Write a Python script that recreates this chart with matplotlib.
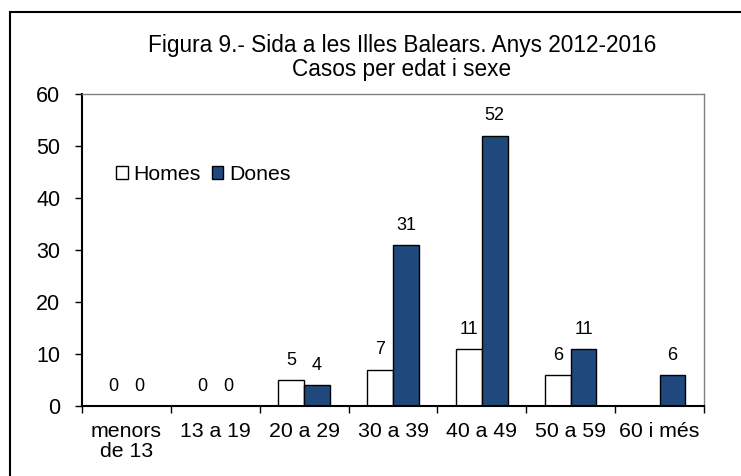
import numpy as np
import matplotlib
matplotlib.use("Agg")
import matplotlib.pyplot as plt
from matplotlib.patches import Rectangle

plt.rcParams["font.family"] = ["Liberation Sans", "DejaVu Sans"]

# dades
categories = ["menors\nde 13", "13 a 19", "20 a 29", "30 a 39", "40 a 49", "50 a 59", "60 i més"]
homes = [0, 0, 5, 7, 11, 6, None]
dones = [0, 0, 4, 31, 52, 11, 6]
yticks = [0, 10, 20, 30, 40, 50, 60]

title = "Figura 9.- Sida a les Illes Balears. Anys 2012-2016\nCasos per edat i sexe"
blue = "#1F497D"


def plotBars():
    fig = plt.figure(figsize=(7.41, 4.76), dpi=100)
    ax = fig.add_axes([82 / 741, 70 / 476, 622 / 741, 312 / 476])

    # marc exterior
    fig.patches.append(Rectangle((10 / 741, -0.1), 1.2, 1 - 12 / 476 + 0.1, transform=fig.transFigure,
                                 fill=False, edgecolor="black", linewidth=1.5))

    x = np.arange(len(categories)) + 0.5
    w = 0.29
    h_vals = np.array([np.nan if v is None else v for v in homes], dtype=float)
    d_vals = np.array(dones, dtype=float)
    hb = ax.bar(x - w / 2, np.nan_to_num(h_vals), width=w, color="white", edgecolor="black",
                linewidth=1, label="Homes")
    db = ax.bar(x + w / 2, d_vals, width=w, color=blue, edgecolor="black", linewidth=1, label="Dones")

    for rect, v in zip(hb, h_vals):
        if np.isnan(v):
            rect.set_visible(False)
            continue
        ax.annotate(f"{int(v)}", (rect.get_x() + rect.get_width() / 2, v), xytext=(0, 8),
                    textcoords="offset points", ha="center", va="bottom", fontsize=13)
    for rect, v in zip(db, d_vals):
        ax.annotate(f"{int(v)}", (rect.get_x() + rect.get_width() / 2, v), xytext=(0, 8),
                    textcoords="offset points", ha="center", va="bottom", fontsize=13)

    ax.set_xlim(0, len(categories))
    ax.set_ylim(0, 60)
    ax.set_yticks(yticks)
    ax.tick_params(axis="y", labelsize=15.5, length=5, width=1, pad=10.5)

    ax.set_xticks(np.arange(len(categories) + 1))
    ax.set_xticklabels([])
    ax.set_xticks(x, minor=True)
    ax.set_xticklabels(categories, minor=True, fontsize=15.3, linespacing=1.1)
    ax.tick_params(axis="x", which="major", length=5, width=1)
    ax.tick_params(axis="x", which="minor", length=0, pad=11.5)

    for s in ["left", "bottom"]:
        ax.spines[s].set_linewidth(1.5)
    for s in ["top", "right"]:
        ax.spines[s].set_color("#808080")
        ax.spines[s].set_linewidth(1)

    ax.legend(loc="upper left", bbox_to_anchor=(116 / 741, 1 - 165 / 476), bbox_transform=fig.transFigure,
              ncol=2, frameon=False, fontsize=15.3, handlelength=0.55, handleheight=0.55,
              handletextpad=0.28, columnspacing=0.5, borderpad=0, borderaxespad=0)

    fig.text(402 / 741, 1 - 34 / 476, title, ha="center", va="top", fontsize=16.3, linespacing=1.05)

    fig.savefig("out.png", dpi=100)
    return


if __name__ == "__main__":
    plotBars()
